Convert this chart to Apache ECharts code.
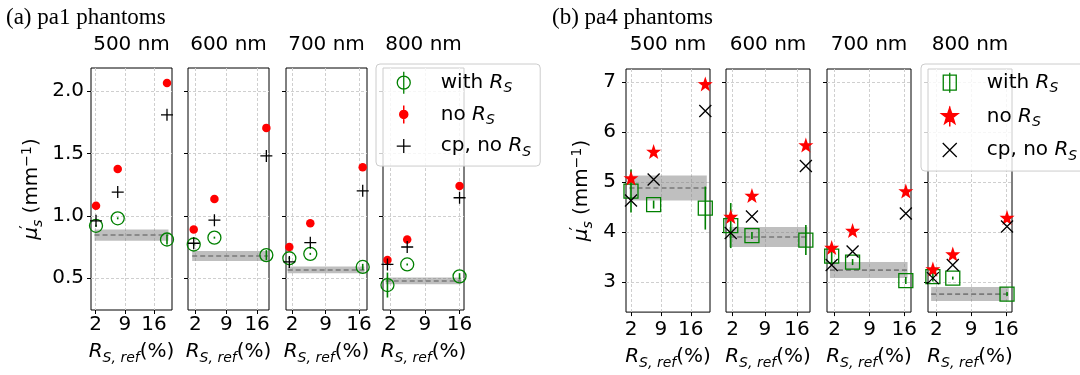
<!DOCTYPE html>
<html>
<head>
<meta charset="utf-8">
<script src="https://cdn.jsdelivr.net/npm/echarts@6/dist/echarts.min.js"></script>
<style>
  html, body { margin: 0; padding: 0; background: #fff; }
  #main { width: 1080px; height: 375px; }
</style>
</head>
<body>
<div id="main"></div>
<script>
// 数据：波长、刻度
var wavelengths = ['500 nm', '600 nm', '700 nm', '800 nm'];
var xTicks = [2, 9, 16];
var yTicksA = [0.5, 1.0, 1.5, 2.0];
var yTicksB = [3, 4, 5, 6, 7];

// (a) pa1 phantoms —— 每个波长三个 R_S,ref 点
var rsRefA = [[2.1, 7.3, 19.1], [1.6, 6.3, 18.1], [1.4, 5.8, 16.8], [1.4, 5.4, 16.0]];
var withRsA = [[0.92, 0.98, 0.81], [0.77, 0.825, 0.685], [0.66, 0.695, 0.59], [0.445, 0.61, 0.515]];
var withRsErrA = [[0.008, 0.008, 0.04], [0.008, 0.008, 0.04], [0.008, 0.008, 0.025], [0.1, 0.008, 0.025]];
var noRsA = [[1.08, 1.375, 2.065], [0.89, 1.135, 1.705], [0.75, 0.94, 1.39], [0.645, 0.81, 1.24]];
var cpNoRsA = [[0.96, 1.19, 1.81], [0.78, 0.965, 1.48], [0.63, 0.785, 1.2], [0.61, 0.75, 1.145]];
var refMeanA = [0.846, 0.678, 0.566, 0.478];
var refHalfA = [0.045, 0.04, 0.027, 0.027];

// (b) pa4 phantoms
var rsRefB = [[2.0, 7.3, 19.4], [1.6, 6.2, 17.9], [1.4, 5.6, 16.3], [1.3, 5.3, 16.2]];
var withRsB = [[4.82, 4.55, 4.48], [4.13, 3.93, 3.84], [3.52, 3.40, 3.03], [3.11, 3.08, 2.76]];
var withRsErrB = [[0.43, 0.08, 0.43], [0.45, 0.07, 0.3], [0.15, 0.06, 0.07], [0.1, 0.03, 0.04]];
var noRsB = [[5.08, 5.61, 6.96], [4.31, 4.73, 5.74], [3.69, 4.03, 4.82], [3.26, 3.56, 4.29]];
var cpNoRsB = [[4.63, 5.05, 6.42], [3.98, 4.31, 5.32], [3.34, 3.61, 4.37], [3.08, 3.34, 4.11]];
var refMeanB = [4.88, 3.9, 3.24, 2.76];
var refHalfB = [0.25, 0.2, 0.16, 0.14];

var FONT = 'DejaVu Sans';
var FS = 20;
var GREEN = '#008000', RED = '#ff0000';

// 星形路径
function starPath(R, r) {
    var d = '';
    for (var k = 0; k < 10; k++) {
        var a = -Math.PI / 2 + k * Math.PI / 5, rad = k % 2 ? r : R;
        d += (k ? 'L' : 'M') + (rad * Math.cos(a)).toFixed(2) + ',' + (rad * Math.sin(a)).toFixed(2);
    }
    return d + 'Z';
}
var PLUS = 'path://M0,-1V1M-1,0H1';
var CROSS = 'path://M-1,-1L1,1M1,-1L-1,1';
var STAR = 'path://' + starPath(10, 4);

var rich = {
    r: { fontFamily: FONT, fontStyle: 'italic', fontSize: FS, lineHeight: 24 },
    n: { fontFamily: FONT, fontSize: FS, lineHeight: 24 },
    m: { fontFamily: FONT, fontStyle: 'italic', fontSize: FS, lineHeight: 24 },
    p: { fontFamily: FONT, fontSize: 15, lineHeight: 15, verticalAlign: 'top', padding: [0, 0, 10, 0], width: 0 },
    s: { fontFamily: FONT, fontStyle: 'italic', fontSize: 14, lineHeight: 14, verticalAlign: 'top', padding: [11, 0, 0, 0] },
    u: { fontFamily: FONT, fontSize: 14, lineHeight: 14, verticalAlign: 'top', padding: [0, 0, 11, 0] }
};

var groups = [
    {
        key: 'a', rs: rsRefA, withV: withRsA, withErr: withRsErrA, noV: noRsA, cpV: cpNoRsA,
        mean: refMeanA, half: refHalfA, yTicks: yTicksA, digits: 1,
        lefts: [91, 188, 286, 383], width: 81, top: 68, height: 242,
        xRanges: [[0.9, 20.3], [0.3, 18.7], [0.7, 17.7], [0.5, 16.9]], yRange: [0.245, 2.185],
        yMargin: 7, xMargin: 5, xNameGap: 29, yNameGap: 47,
        withSym: 'circle', withSize: 13, noSym: 'circle', noSize: 8.5, cpSym: PLUS, cpSize: 12,
        titleY: 45, title: '(a) pa1 phantoms', titleX: 6,
        legendLeft: 376, legendGap: 6, legendPad: [6, 9, 7, 16]
    },
    {
        key: 'b', rs: rsRefB, withV: withRsB, withErr: withRsErrB, noV: noRsB, cpV: cpNoRsB,
        mean: refMeanB, half: refHalfB, yTicks: yTicksB, digits: 0,
        lefts: [626, 726, 827, 928], width: 84, top: 69, height: 251,
        xRanges: [[0.83, 20.5], [0.57, 18.8], [0.46, 17.34], [0.32, 17.2]], yRange: [2.4, 7.26],
        yMargin: 10, xMargin: 8, xNameGap: 32, yNameGap: 32,
        withSym: 'rect', withSize: 14, noSym: STAR, noSize: 15, cpSym: CROSS, cpSize: 12,
        titleY: 45, title: '(b) pa4 phantoms', titleX: 552,
        legendLeft: 921, legendGap: 8, legendPad: [6, 17, 8, 17]
    }
];

var option = {
    animation: false,
    backgroundColor: '#fff',
    grid: [], xAxis: [], yAxis: [], series: [], legend: [], graphic: []
};

function bandItem(params, api) {
    var a = api.coord([api.value(0), api.value(2) + api.value(3)]);
    var b = api.coord([api.value(1), api.value(2) - api.value(3)]);
    var m0 = api.coord([api.value(0), api.value(2)]);
    var m1 = api.coord([api.value(1), api.value(2)]);
    return {
        type: 'group', children: [
            { type: 'rect', shape: { x: a[0], y: a[1], width: b[0] - a[0], height: b[1] - a[1] },
              style: { fill: 'rgba(128,128,128,0.5)' } },
            { type: 'line', shape: { x1: m0[0], y1: m0[1], x2: m1[0], y2: m1[1] },
              style: { stroke: '#7a7a7a', lineWidth: 1.6, lineDash: [5, 3] } }
        ]
    };
}

function errItem(params, api) {
    var x = api.value(0), y = api.value(1), e = api.value(2);
    var p1 = api.coord([x, y - e]), p2 = api.coord([x, y + e]);
    return { type: 'line', shape: { x1: p1[0], y1: p1[1], x2: p2[0], y2: p2[1] },
             style: { stroke: GREEN, lineWidth: 1.6 } };
}

groups.forEach(function (G) {
    option.graphic.push({
        type: 'text', x: G.titleX, y: 18,
        style: { text: G.title, font: '23px "Liberation Serif"', fill: '#000', verticalAlign: 'middle' }
    });
    for (var i = 0; i < 4; i++) {
        var g = option.grid.length;
        option.grid.push({
            left: G.lefts[i], top: G.top, width: G.width, height: G.height,
            show: true, borderColor: '#000', borderWidth: 1, backgroundColor: 'rgba(0,0,0,0)'
        });
        option.graphic.push({
            type: 'text', x: G.lefts[i] + G.width / 2, y: G.titleY,
            style: { text: wavelengths[i], font: FS + 'px "DejaVu Sans"', fill: '#000', align: 'center', verticalAlign: 'middle' }
        });
        option.xAxis.push({
            gridIndex: g, type: 'value', min: G.xRanges[i][0], max: G.xRanges[i][1],
            axisLine: { show: false },
            axisTick: { show: true, length: 4, customValues: xTicks, lineStyle: { color: '#000' } },
            axisLabel: { customValues: xTicks, fontFamily: FONT, fontSize: FS, color: '#000', margin: G.xMargin },
            splitLine: { show: true, lineStyle: { color: '#cfcfcf', type: [3, 2], width: 1 } },
            name: '{r|R}{s|S, ref}{n|(%)}', nameLocation: 'middle', nameGap: G.xNameGap,
            nameTextStyle: { fontFamily: FONT, fontSize: FS, color: '#000', rich: rich }
        });
        var dg = G.digits;
        option.yAxis.push({
            gridIndex: g, type: 'value', min: G.yRange[0], max: G.yRange[1],
            axisLine: { show: false },
            axisTick: { show: true, length: 4, customValues: G.yTicks, lineStyle: { color: '#000' } },
            axisLabel: {
                show: i === 0, customValues: G.yTicks, fontFamily: FONT, fontSize: FS, color: '#000', margin: G.yMargin,
                formatter: (function (d) { return function (v) { return v.toFixed(d); }; })(dg)
            },
            splitLine: { show: true, lineStyle: { color: '#cfcfcf', type: [3, 2], width: 1 } },
            name: i === 0 ? '{m|μ}{p|′}{s|s}{n| (mm}{u|−1}{n|)}' : '',
            nameLocation: 'middle', nameRotate: 90, nameGap: G.yNameGap,
            nameTextStyle: { fontFamily: FONT, fontSize: FS, color: '#000', rich: rich }
        });

        var rs = G.rs[i];
        // 参考值灰色带 + 虚线
        option.series.push({
            type: 'custom', xAxisIndex: g, yAxisIndex: g, silent: true, z: 1,
            renderItem: bandItem, encode: { x: [0, 1], y: [2] },
            data: [[rs[0] - 0.35, rs[2] + 0.35, G.mean[i], G.half[i]]]
        });
        // with R_S 误差棒
        option.series.push({
            type: 'custom', xAxisIndex: g, yAxisIndex: g, silent: true, z: 3,
            renderItem: errItem, encode: { x: 0, y: 1 },
            data: rs.map(function (x, k) { return [x, G.withV[i][k], G.withErr[i][k]]; })
        });
        option.series.push({
            name: G.key + '-with', type: 'scatter', xAxisIndex: g, yAxisIndex: g, silent: true, z: 3,
            symbol: G.withSym, symbolSize: G.withSize,
            itemStyle: { color: 'rgba(0,0,0,0)', borderColor: GREEN, borderWidth: 1.3, opacity: 1 },
            data: rs.map(function (x, k) { return [x, G.withV[i][k]]; })
        });
        option.series.push({
            name: G.key + '-no', type: 'scatter', xAxisIndex: g, yAxisIndex: g, silent: true, z: 4,
            symbol: G.noSym, symbolSize: G.noSize,
            itemStyle: { color: RED, opacity: 1 },
            data: rs.map(function (x, k) { return [x, G.noV[i][k]]; })
        });
        option.series.push({
            name: G.key + '-cp', type: 'scatter', xAxisIndex: g, yAxisIndex: g, silent: true, z: 5,
            symbol: G.cpSym, symbolSize: G.cpSize,
            itemStyle: { color: 'rgba(0,0,0,0)', borderColor: '#000', borderWidth: 1.3, opacity: 1 },
            data: rs.map(function (x, k) { return [x, G.cpV[i][k]]; })
        });
    }
});

// 图例图标（带外框让大小一致）
var FRAME = 'M-11,-12M32,12';
var legendIcons = {
    'a-with': 'path://' + FRAME + 'M6.5,0A6.5,6.5,0,1,1,-6.5,0A6.5,6.5,0,1,1,6.5,0ZM0,-11V11',
    'a-no': 'path://' + FRAME + 'M4,0A4,4,0,1,1,-4,0A4,4,0,1,1,4,0ZM0,-9V9',
    'a-cp': 'path://' + FRAME + 'M0,-7V7M-7,0H7',
    'b-with': 'path://' + FRAME + 'M-6.5,-7.5H6.5V7.5H-6.5ZM0,-10V10',
    'b-no': 'path://' + FRAME + starPath(8.5, 3.4) + 'M0,-10V10',
    'b-cp': 'path://' + FRAME + 'M-7,-7L7,7M7,-7L-7,7'
};
var legendText = {
    'a-with': 'with {r|R}{s|S}', 'a-no': 'no {r|R}{s|S}', 'a-cp': 'cp, no {r|R}{s|S}',
    'b-with': 'with {r|R}{s|S}', 'b-no': 'no {r|R}{s|S}', 'b-cp': 'cp, no {r|R}{s|S}'
};
var legendStyle = {
    with: { color: 'rgba(0,0,0,0)', borderColor: GREEN, borderWidth: 1.3 },
    no: { color: RED, borderColor: RED, borderWidth: 1.5 },
    cp: { color: 'rgba(0,0,0,0)', borderColor: '#000', borderWidth: 1.3 }
};

groups.forEach(function (G) {
    option.legend.push({
        orient: 'vertical', left: G.legendLeft, top: 64, z: 10,
        itemWidth: 43, itemHeight: 24, itemGap: G.legendGap, padding: G.legendPad,
        backgroundColor: 'rgba(255,255,255,0.8)', borderColor: '#cccccc', borderWidth: 1, borderRadius: 4,
        selectedMode: false,
        textStyle: { fontFamily: FONT, fontSize: FS, color: '#000', lineHeight: 24, rich: rich },
        formatter: function (name) { return legendText[name]; },
        data: ['with', 'no', 'cp'].map(function (k) {
            var nm = G.key + '-' + k;
            return { name: nm, icon: legendIcons[nm], itemStyle: legendStyle[k] };
        })
    });
});

var myChart = echarts.init(document.getElementById('main'), null, { renderer: 'canvas' });
myChart.setOption(option);
</script>
</body>
</html>
